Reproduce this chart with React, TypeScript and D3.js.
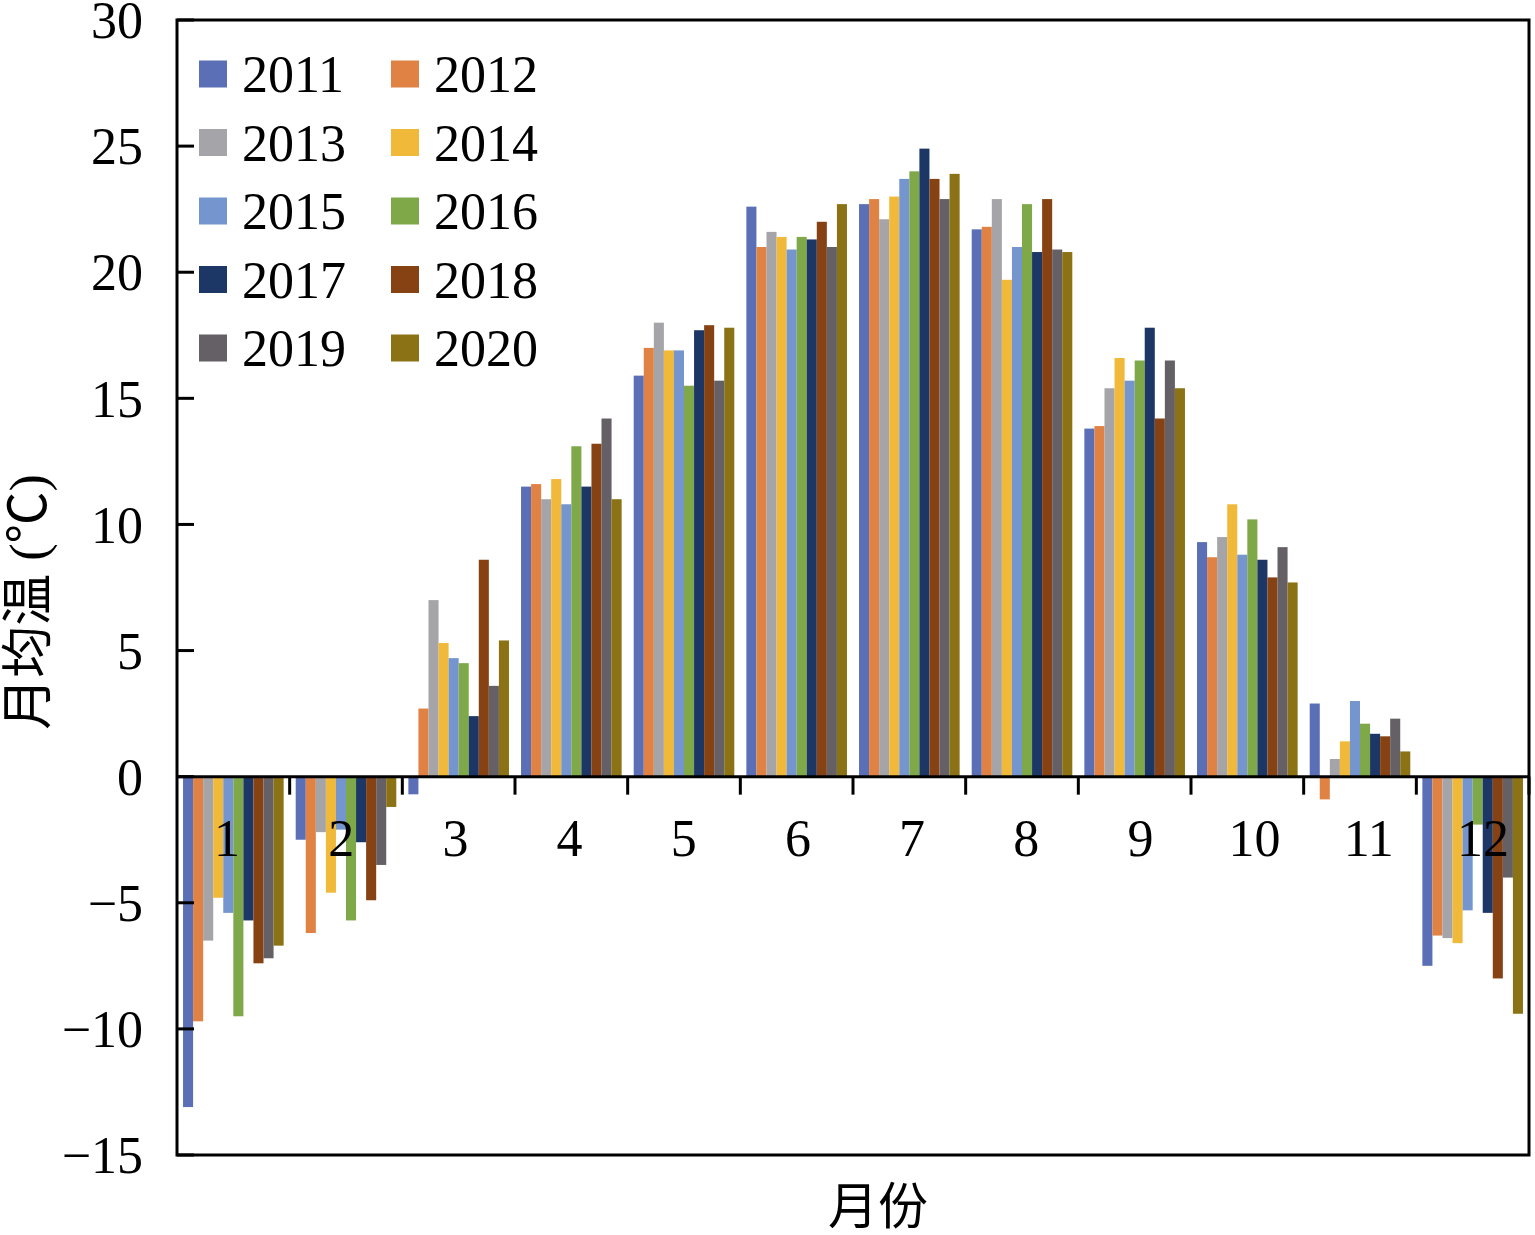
import { useEffect, useRef } from "react";
import * as d3 from "d3";

// months on the x axis
const months = ["1", "2", "3", "4", "5", "6", "7", "8", "9", "10", "11", "12"];
const years = ["2011", "2012", "2013", "2014", "2015", "2016", "2017", "2018", "2019", "2020"];
const yTicks = [-15, -10, -5, 0, 5, 10, 15, 20, 25, 30];

// monthly mean temperature (°C), one array per year
const t2011 = [-13.1, -2.5, -0.7, 11.5, 15.9, 22.6, 22.7, 21.7, 13.8, 9.3, 2.9, -7.5];
const t2012 = [-9.7, -6.2, 2.7, 11.6, 17.0, 21.0, 22.9, 21.8, 13.9, 8.7, -0.9, -6.3];
const t2013 = [-6.5, -2.2, 7.0, 11.0, 18.0, 21.6, 22.1, 22.9, 15.4, 9.5, 0.7, -6.4];
const t2014 = [-4.8, -4.6, 5.3, 11.8, 16.9, 21.4, 23.0, 19.7, 16.6, 10.8, 1.4, -6.6];
const t2015 = [-5.4, -2.1, 4.7, 10.8, 16.9, 20.9, 23.7, 21.0, 15.7, 8.8, 3.0, -5.3];
const t2016 = [-9.5, -5.7, 4.5, 13.1, 15.5, 21.4, 24.0, 22.7, 16.5, 10.2, 2.1, -1.9];
const t2017 = [-5.7, -2.6, 2.4, 11.5, 17.7, 21.3, 24.9, 20.8, 17.8, 8.6, 1.7, -5.4];
const t2018 = [-7.4, -4.9, 8.6, 13.2, 17.9, 22.0, 23.7, 22.9, 14.2, 7.9, 1.6, -8.0];
const t2019 = [-7.2, -3.5, 3.6, 14.2, 15.7, 21.0, 22.9, 20.9, 16.5, 9.1, 2.3, -4.0];
const t2020 = [-6.7, -1.2, 5.4, 11.0, 17.8, 22.7, 23.9, 20.8, 15.4, 7.7, 1.0, -9.4];

const colors = [
  "#5a6fb6", "#e08244", "#a5a4a8", "#f1b93a", "#7495cd",
  "#7fa848", "#1c3666", "#874213", "#656065", "#8b7214",
];

const seriesValues = [t2011, t2012, t2013, t2014, t2015, t2016, t2017, t2018, t2019, t2020];

const FONT = '"Liberation Serif", "Times New Roman", serif';
const CJK = '"Liberation Serif", "Noto Sans CJK SC", serif';

const TempChart = () => {
  const ref = useRef<HTMLDivElement>(null);

  useEffect(() => {
    document.body.style.margin = "0";
    const W = 1535;
    const H = 1235;
    const left = 177;
    const right = 1529;
    const top = 20;
    const bottom = 1155;

    d3.select(ref.current).select("svg").remove();
    const svg = d3
      .select(ref.current)
      .append("svg")
      .attr("width", W)
      .attr("height", H)
      .style("display", "block")
      .style("background", "#fff");

    const x0 = d3.scaleBand().domain(months).range([left, right]).padding(0);
    const x1 = d3
      .scaleBand()
      .domain(years)
      .range([0, x0.bandwidth()])
      .paddingInner(0)
      .paddingOuter(0.6);
    const y = d3.scaleLinear().domain([-15, 30]).range([bottom, top]);
    // month labels sit on a slightly wider spacing than the ticks in the original
    const xLabel = d3.scaleBand().domain(months).range([170, 1540]);

    const rows = months.map((m, i) => ({
      month: m,
      vals: years.map((yr, j) => ({ year: yr, idx: j, v: seriesValues[j][i] })),
    }));

    // bars
    svg
      .append("g")
      .selectAll("g")
      .data(rows)
      .join("g")
      .attr("transform", (d) => `translate(${x0(d.month)},0)`)
      .selectAll("rect")
      .data((d) => d.vals)
      .join("rect")
      .attr("x", (d) => x1(d.year) as number)
      .attr("width", x1.bandwidth())
      .attr("y", (d) => y(Math.max(0, d.v)))
      .attr("height", (d) => Math.abs(y(d.v) - y(0)))
      .attr("fill", (d) => colors[d.idx]);

    // frame
    svg
      .append("rect")
      .attr("x", left)
      .attr("y", top)
      .attr("width", right - left)
      .attr("height", bottom - top)
      .attr("fill", "none")
      .attr("stroke", "#000")
      .attr("stroke-width", 3);

    // y ticks (inside)
    svg
      .append("g")
      .selectAll("line")
      .data(yTicks)
      .join("line")
      .attr("x1", left)
      .attr("x2", left + 17)
      .attr("y1", (d) => y(d))
      .attr("y2", (d) => y(d))
      .attr("stroke", "#000")
      .attr("stroke-width", 3);

    svg
      .append("g")
      .selectAll("text")
      .data(yTicks)
      .join("text")
      .attr("x", 143)
      .attr("y", (d) => y(d))
      .attr("dy", "0.35em")
      .attr("text-anchor", "end")
      .style("font-family", FONT)
      .style("font-size", "52px")
      .text((d) => (d < 0 ? `\u2212${-d}` : `${d}`));

    // zero line and month ticks
    svg
      .append("line")
      .attr("x1", left)
      .attr("x2", right)
      .attr("y1", y(0))
      .attr("y2", y(0))
      .attr("stroke", "#000")
      .attr("stroke-width", 3);

    const bounds = months.map((m) => x0(m) as number).concat([right]);
    svg
      .append("g")
      .selectAll("line")
      .data(bounds.slice(1))
      .join("line")
      .attr("x1", (d) => d)
      .attr("x2", (d) => d)
      .attr("y1", y(0))
      .attr("y2", y(0) + 18)
      .attr("stroke", "#000")
      .attr("stroke-width", 3);

    svg
      .append("g")
      .selectAll("text")
      .data(months)
      .join("text")
      .attr("x", (d) => (xLabel(d) as number) + xLabel.bandwidth() / 2)
      .attr("y", 856)
      .attr("text-anchor", "middle")
      .style("font-family", FONT)
      .style("font-size", "52px")
      .text((d) => d);

    // axis titles
    svg
      .append("text")
      .attr("transform", `translate(46,602) rotate(-90)`)
      .attr("text-anchor", "middle")
      .style("font-family", CJK)
      .style("font-size", "52px")
      .text("月均温 (\u2103)");

    svg
      .append("text")
      .attr("x", 878)
      .attr("y", 1224)
      .attr("text-anchor", "middle")
      .style("font-family", CJK)
      .style("font-size", "50px")
      .text("月份");

    // legend, two columns
    const legend = svg
      .append("g")
      .selectAll("g")
      .data(years)
      .join("g")
      .attr("transform", (_, i) => `translate(${i % 2 === 0 ? 199 : 391},${74 + Math.floor(i / 2) * 68.5})`);

    legend
      .append("rect")
      .attr("x", 0)
      .attr("y", -13.5)
      .attr("width", 28)
      .attr("height", 27)
      .attr("fill", (_, i) => colors[i]);

    legend
      .append("text")
      .attr("x", 43)
      .attr("y", 0)
      .attr("dy", "0.35em")
      .style("font-family", FONT)
      .style("font-size", "52px")
      .text((d) => d);
  }, []);

  return <div ref={ref} />;
};

export default function App() {
  return <TempChart />;
}
